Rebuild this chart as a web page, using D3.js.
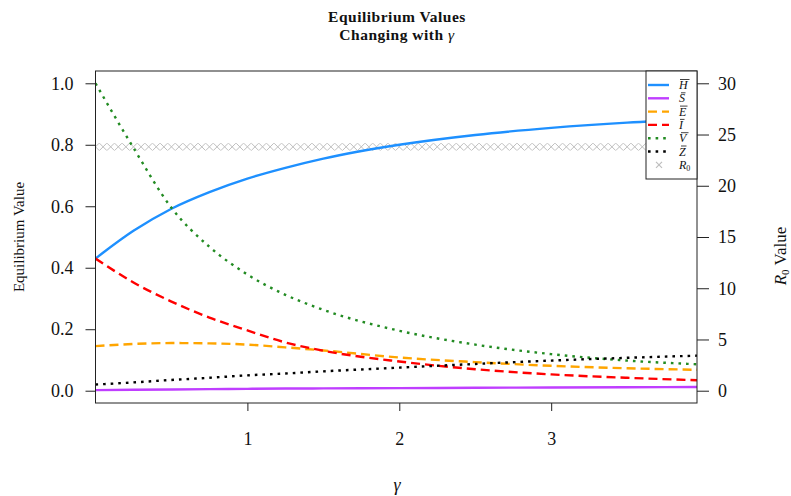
<!DOCTYPE html>
<html>
<head>
<meta charset="utf-8">
<script src="https://cdn.jsdelivr.net/npm/d3@7"></script>
<style>
  html, body { margin: 0; padding: 0; background: #fff; }
  svg { display: block; }
  text { font-family: "Liberation Serif", "Times New Roman", serif; fill: #111; }
</style>
</head>
<body>
<svg id="chart" width="791" height="496"></svg>
<script>
// Equilibrium values as functions of gamma (sampled at these knots)
const gammaKnots = [0, 0.25, 0.5, 0.75, 1, 1.25, 1.5, 2, 2.5, 3, 3.5, 3.96];
const hBar = [0.430, 0.520, 0.592, 0.646, 0.690, 0.725, 0.755, 0.800, 0.832, 0.855, 0.872, 0.883];
const sBar = [0.002, 0.003, 0.004, 0.005, 0.006, 0.007, 0.0075, 0.0085, 0.0095, 0.0105, 0.011, 0.012];
const eBar = [0.145, 0.152, 0.155, 0.154, 0.150, 0.141, 0.131, 0.108, 0.093, 0.081, 0.073, 0.068];
const iBar = [0.430, 0.352, 0.290, 0.238, 0.196, 0.157, 0.130, 0.095, 0.070, 0.053, 0.042, 0.034];
const vBar = [1.000, 0.790, 0.595, 0.468, 0.378, 0.312, 0.263, 0.195, 0.150, 0.119, 0.098, 0.086];
const zBar = [0.020, 0.027, 0.035, 0.042, 0.050, 0.056, 0.063, 0.075, 0.087, 0.098, 0.107, 0.114];

// R0 evaluated on the fine gamma grid
const gammaGrid = [
  0.00, 0.05, 0.10, 0.15, 0.20, 0.25, 0.30, 0.35, 0.40, 0.45,
  0.50, 0.55, 0.60, 0.65, 0.70, 0.75, 0.80, 0.85, 0.90, 0.95,
  1.00, 1.05, 1.10, 1.15, 1.20, 1.25, 1.30, 1.35, 1.40, 1.45,
  1.50, 1.55, 1.60, 1.65, 1.70, 1.75, 1.80, 1.85, 1.90, 1.95,
  2.00, 2.05, 2.10, 2.15, 2.20, 2.25, 2.30, 2.35, 2.40, 2.45,
  2.50, 2.55, 2.60, 2.65, 2.70, 2.75, 2.80, 2.85, 2.90, 2.95,
  3.00, 3.05, 3.10, 3.15, 3.20, 3.25, 3.30, 3.35, 3.40, 3.45,
  3.50, 3.55, 3.60, 3.65, 3.70, 3.75, 3.80, 3.85, 3.90, 3.95
];
const r0Values = [
  23.8, 23.8, 23.8, 23.8, 23.8, 23.8, 23.8, 23.8, 23.8, 23.8,
  23.8, 23.8, 23.8, 23.8, 23.8, 23.8, 23.8, 23.8, 23.8, 23.8,
  23.8, 23.8, 23.8, 23.8, 23.8, 23.8, 23.8, 23.8, 23.8, 23.8,
  23.8, 23.8, 23.8, 23.8, 23.8, 23.8, 23.8, 23.8, 23.8, 23.8,
  23.8, 23.8, 23.8, 23.8, 23.8, 23.8, 23.8, 23.8, 23.8, 23.8,
  23.8, 23.8, 23.8, 23.8, 23.8, 23.8, 23.8, 23.8, 23.8, 23.8,
  23.8, 23.8, 23.8, 23.8, 23.8, 23.8, 23.8, 23.8, 23.8, 23.8,
  23.8, 23.8, 23.8, 23.8, 23.8, 23.8, 23.8, 23.8, 23.8, 23.8
];

const leftTicks = [0, 0.2, 0.4, 0.6, 0.8, 1.0];
const rightTicks = [0, 5, 10, 15, 20, 25, 30];
const xTicks = [1, 2, 3];

const series = [
  { key: "H", values: hBar, color: "#1E90FF", dash: null },
  { key: "S", values: sBar, color: "#BF3EFF", dash: null },
  { key: "E", values: eBar, color: "#FFA500", dash: "9,5" },
  { key: "I", values: iBar, color: "#FF0000", dash: "9,5" },
  { key: "V", values: vBar, color: "#228B22", dash: "2.6,5" },
  { key: "Z", values: zBar, color: "#000000", dash: "2.6,5" }
];

const svg = d3.select("#chart");
const plot = { left: 95.5, right: 697, top: 71, bottom: 403 };

const x = d3.scaleLinear().domain([0, 3.96]).range([plot.left, plot.right]);
const y = d3.scaleLinear().domain([-0.04, 1.04]).range([plot.bottom, plot.top]);
const yR = d3.scaleLinear().domain([-1.2, 31.2]).range([plot.bottom, plot.top]);

svg.append("defs").append("clipPath").attr("id", "plotClip")
  .append("rect")
  .attr("x", plot.left).attr("y", plot.top)
  .attr("width", plot.right - plot.left).attr("height", plot.bottom - plot.top);

const g = svg.append("g").attr("clip-path", "url(#plotClip)");

// R0 markers (crosses)
const crossR = 3.6;
g.append("g").selectAll("path")
  .data(gammaGrid.map((d, i) => [d, r0Values[i]]))
  .join("path")
  .attr("transform", d => `translate(${x(d[0])},${yR(d[1])})`)
  .attr("d", `M${-crossR},${-crossR}L${crossR},${crossR}M${-crossR},${crossR}L${crossR},${-crossR}`)
  .attr("stroke", "#BEBEBE").attr("stroke-width", 1).attr("fill", "none");

// Equilibrium curves
const line = d3.line().x(d => x(d[0])).y(d => y(d[1])).curve(d3.curveMonotoneX);
series.forEach(s => {
  g.append("path")
    .datum(gammaKnots.map((k, i) => [k, s.values[i]]))
    .attr("d", line)
    .attr("fill", "none")
    .attr("stroke", s.color)
    .attr("stroke-width", 2.4)
    .attr("stroke-dasharray", s.dash);
});

// Axes
const tickFont = "18px";
const leftAxis = svg.append("g").attr("transform", `translate(${plot.left},0)`)
  .call(d3.axisLeft(y).tickValues(leftTicks).tickFormat(d3.format(".1f")).tickSize(10).tickPadding(12));
const rightAxis = svg.append("g").attr("transform", `translate(${plot.right},0)`)
  .call(d3.axisRight(yR).tickValues(rightTicks).tickFormat(d3.format("d")).tickSize(12).tickPadding(9));
const bottomAxis = svg.append("g").attr("transform", `translate(0,${plot.bottom})`)
  .call(d3.axisBottom(x).tickValues(xTicks).tickFormat(d3.format("d")).tickSize(8).tickPadding(21));
[leftAxis, rightAxis, bottomAxis].forEach(a => {
  a.select(".domain").remove();
  a.selectAll(".tick line").attr("stroke", "#222").attr("stroke-width", 1);
  a.selectAll(".tick text").attr("font-size", tickFont)
    .attr("font-family", "'Liberation Serif', serif").attr("fill", "#111");
});

// Plot frame
svg.append("rect")
  .attr("x", plot.left).attr("y", plot.top)
  .attr("width", plot.right - plot.left).attr("height", plot.bottom - plot.top)
  .attr("fill", "none").attr("stroke", "#222").attr("stroke-width", 1);

// Title
const title = svg.append("text").attr("text-anchor", "middle")
  .attr("font-weight", "bold").attr("font-size", "15.5px").attr("letter-spacing", "0.5px");
title.append("tspan").attr("x", 397).attr("y", 22).text("Equilibrium Values");
const t2 = title.append("tspan").attr("x", 397).attr("y", 40).text("Changing with ");
t2.append("tspan").attr("font-style", "italic").attr("font-weight", "normal").text("γ");

// Axis titles
svg.append("text")
  .attr("transform", "translate(24,237) rotate(-90)")
  .attr("text-anchor", "middle").attr("font-size", "15px")
  .text("Equilibrium Value");

const rLab = svg.append("text")
  .attr("transform", "translate(786,256) rotate(-90)")
  .attr("text-anchor", "middle").attr("font-size", "17px");
rLab.append("tspan").attr("font-style", "italic").text("R");
rLab.append("tspan").attr("font-size", "11px").attr("dy", 3).text("0");
rLab.append("tspan").attr("dy", -3).text(" Value");

svg.append("text")
  .attr("x", 397).attr("y", 491)
  .attr("text-anchor", "middle").attr("font-size", "18px").attr("font-style", "italic")
  .text("γ");

// Legend
const leg = svg.append("g");
leg.append("rect")
  .attr("x", 646).attr("y", 71).attr("width", 51).attr("height", 108)
  .attr("fill", "#fff").attr("stroke", "#222").attr("stroke-width", 1);

const legendRows = series.map(s => ({ ...s, type: "line" }))
  .concat([{ key: "R0", type: "cross", color: "#BEBEBE" }]);
const rowY = i => 85 + i * 13.3;

legendRows.forEach((r, i) => {
  const yy = rowY(i);
  if (r.type === "line") {
    leg.append("line")
      .attr("x1", 648).attr("x2", 669).attr("y1", yy).attr("y2", yy)
      .attr("stroke", r.color).attr("stroke-width", 2.4)
      .attr("stroke-dasharray", r.dash);
    const t = leg.append("text")
      .attr("x", 679).attr("y", yy + 4)
      .attr("font-size", "12px").attr("font-style", "italic")
      .text(r.key);
    const bb = t.node().getBBox();
    leg.append("line")
      .attr("x1", bb.x + 2).attr("x2", bb.x + bb.width + 0.5)
      .attr("y1", yy - 5.5).attr("y2", yy - 5.5)
      .attr("stroke", "#111").attr("stroke-width", 0.8);
  } else {
    leg.append("path")
      .attr("transform", `translate(659,${yy})`)
      .attr("d", `M-3,-3L3,3M-3,3L3,-3`)
      .attr("stroke", r.color).attr("stroke-width", 1.2).attr("fill", "none");
    const t = leg.append("text").attr("x", 679).attr("y", yy + 4).attr("font-size", "12px");
    t.append("tspan").attr("font-style", "italic").text("R");
    t.append("tspan").attr("font-size", "8px").attr("dy", 2).text("0");
  }
});
</script>
</body>
</html>
